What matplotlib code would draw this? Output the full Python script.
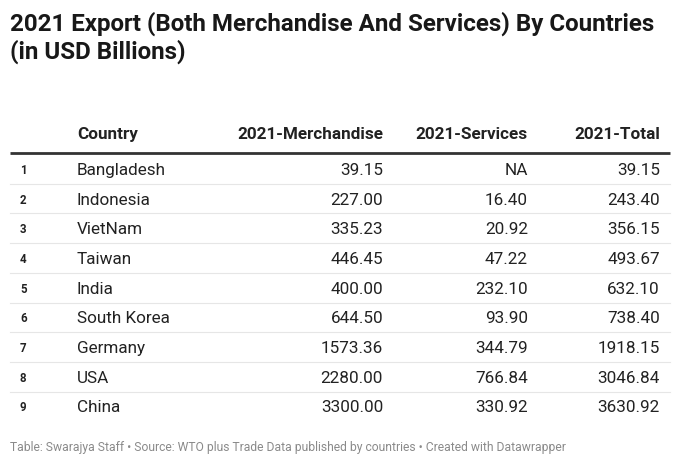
import matplotlib.pyplot as plt

countries = ['Bangladesh', 'Indonesia', 'VietNam', 'Taiwan', 'India',
             'South Korea', 'Germany', 'USA', 'China']
merchandise = [39.15, 227.00, 335.23, 446.45, 400.00, 644.50, 1573.36, 2280.00, 3300.00]
services = [None, 16.40, 20.92, 47.22, 232.10, 93.90, 344.79, 766.84, 330.92]
total = [39.15, 243.40, 356.15, 493.67, 632.10, 738.40, 1918.15, 3046.84, 3630.92]
headers = ['Country', '2021-Merchandise', '2021-Services', '2021-Total']

plt.rcParams['font.family'] = ['Roboto', 'DejaVu Sans']

W, H = 680, 467
fig = plt.figure(figsize=(W / 100, H / 100), dpi=100)
ax = fig.add_axes([0, 0, 1, 1])
ax.set_xlim(0, W)
ax.set_ylim(H, 0)
ax.axis('off')

ax.text(10, 24, '2021 Export (Both Merchandise And Services) By Countries',
        fontsize=17.4, fontweight='bold', va='center', color='#181818')
ax.text(10, 52, '(in USD Billions)', fontsize=17.4, fontweight='bold',
        va='center', color='#181818')

# column anchors
x_num, x_country, x_merch, x_serv, x_tot = 20, 77, 383, 528, 660
fs = 12.3

hy = 139  # header baseline
ax.text(x_country, hy, headers[0], fontsize=fs, fontweight='bold', va='baseline', color='#222')
ax.text(x_merch, hy, headers[1], fontsize=fs, fontweight='bold', va='baseline', ha='right', color='#222')
ax.text(x_serv, hy, headers[2], fontsize=fs, fontweight='bold', va='baseline', ha='right', color='#222')
ax.text(x_tot, hy, headers[3], fontsize=fs, fontweight='bold', va='baseline', ha='right', color='#222')
ax.plot([10, 670], [153, 153], color='#333333', lw=2, solid_capstyle='butt')

top, step = 154, 29.7
for i, c in enumerate(countries):
    by = top + step * (i + 0.5) + 6  # baseline
    ax.text(x_num, by - 1, str(i + 1), fontsize=8.3, fontweight='bold', va='baseline', color='#222')
    ax.text(x_country, by, c, fontsize=fs, va='baseline', color='#222')
    ax.text(x_merch, by, f'{merchandise[i]:.2f}', fontsize=fs, va='baseline', ha='right', color='#222')
    s = 'NA' if services[i] is None else f'{services[i]:.2f}'
    ax.text(x_serv, by, s, fontsize=fs, va='baseline', ha='right', color='#222')
    ax.text(x_tot, by, f'{total[i]:.2f}', fontsize=fs, va='baseline', ha='right', color='#222')
    if i < len(countries) - 1:
        ly = top + step * (i + 1)
        ax.plot([10, 670], [ly, ly], color='#e6e6e6', lw=0.8)

ax.text(10, 448, 'Table: Swarajya Staff \u2022 Source: WTO plus Trade Data published by countries \u2022 Created with Datawrapper',
        fontsize=8.7, va='center', color='#8a8a8a')

fig.savefig('out.png', dpi=100, facecolor='white')
